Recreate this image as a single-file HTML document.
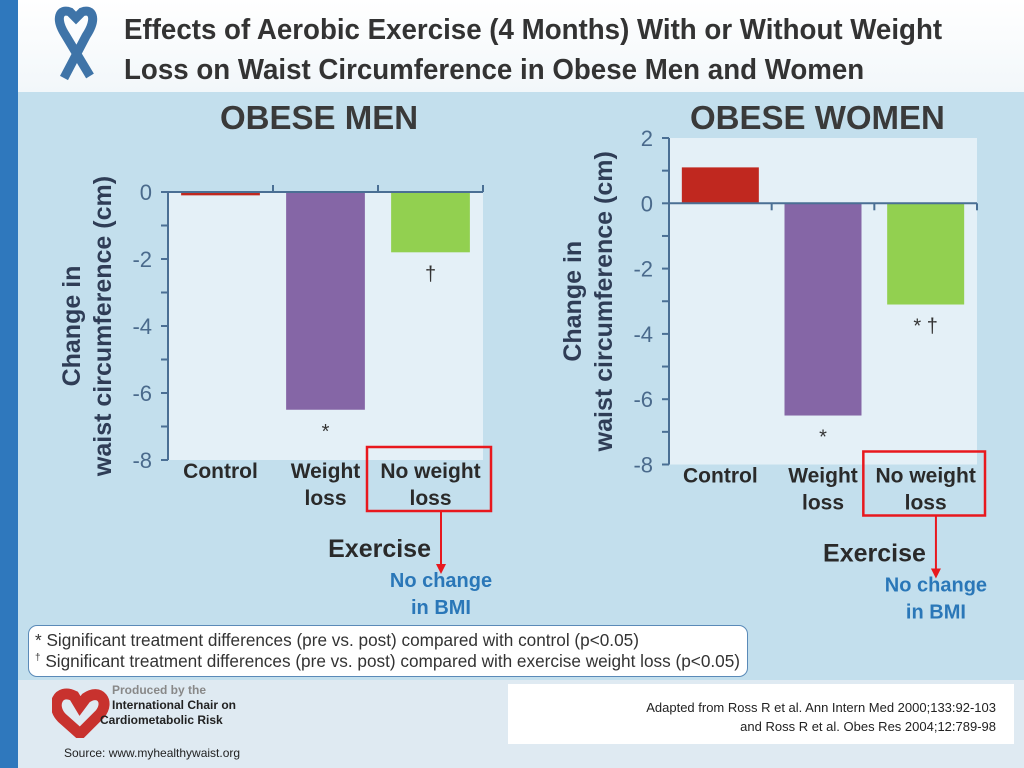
<!DOCTYPE html>
<html><head><meta charset="utf-8"><style>
body{margin:0;width:1024px;height:768px;overflow:hidden;font-family:"Liberation Sans",sans-serif;position:relative;background:#c3dfed}
.abs{position:absolute}
</style></head><body>
<div class="abs" style="left:0;top:0;width:18px;height:768px;background:#2f78bd"></div>
<div class="abs" style="left:18px;top:0;width:1006px;height:92px;background:linear-gradient(#fff,#f2f7fa)"></div>
<div class="abs" style="left:18px;top:680px;width:1006px;height:88px;background:#dfeaf2"></div>
<svg class="abs" style="left:52px;top:6px" width="50" height="78" viewBox="0 0 50 78"><path d="M12 72 L34 30 C46 12 40 2 30 6 L24 12 L18 6 C8 2 2 12 14 30 L38 70" fill="none" stroke="#3f74a8" stroke-width="9"/></svg>
<div class="abs" style="left:124px;top:10px;font-size:29px;font-weight:bold;color:#333;line-height:40px;transform:scaleX(0.955);transform-origin:left;white-space:nowrap">Effects of Aerobic Exercise (4 Months) With or Without Weight<br>Loss on Waist Circumference in Obese Men and Women</div>
<div class="abs" style="left:220px;top:99px;font-size:33px;font-weight:bold;color:#3a3a3a">OBESE MEN</div>
<div class="abs" style="left:690px;top:99px;font-size:33px;font-weight:bold;color:#3a3a3a">OBESE WOMEN</div>
<svg class="abs" id="chart" style="left:0;top:0" width="1024" height="768"></svg>
<div class="abs" style="left:28px;top:625px;width:720px;height:52px;border:1px solid #5a8ab8;border-radius:9px;background:#fff;font-size:17.2px;color:#333;line-height:21px;padding:4px 0 0 6px;box-sizing:border-box;white-space:nowrap">* Significant treatment differences (pre vs. post) compared with control (p&lt;0.05)<br><sup style="font-size:10px;line-height:0">†</sup> Significant treatment differences (pre vs. post) compared with exercise weight loss (p&lt;0.05)</div>
<svg class="abs" style="left:52px;top:688px" width="58" height="50" viewBox="0 0 58 50"><path d="M22 8 C6 0 -2 18 10 30 L28 46 L48 26 C58 14 48 0 34 10 L28 18 Z" fill="none" stroke="#c8322e" stroke-width="11"/></svg>
<div class="abs" style="left:100px;top:683px;font-size:12px;font-weight:bold;color:#222;line-height:15px"><span style="color:#888;margin-left:12px">Produced by the</span><br><span style="margin-left:12px">International Chair on</span><br>Cardiometabolic Risk</div>
<div class="abs" style="left:64px;top:746px;font-size:12px;color:#222">Source: www.myhealthywaist.org</div>
<div class="abs" style="left:508px;top:684px;width:506px;height:60px;background:#fff;font-size:13px;color:#222;text-align:right;line-height:19px;padding:14px 18px 0 0;box-sizing:border-box">Adapted from Ross R et al. Ann Intern Med 2000;133:92-103<br>and Ross R et al. Obes Res 2004;12:789-98</div>
<script>
const categories=["Control","Weight loss","No weight loss"];
const menValues=[-0.1,-6.5,-1.8];
const womenValues=[1.1,-6.5,-3.1];
const menNotes=["","*","†"];
const womenNotes=["","*","* †"];
const colors=["#c0281f","#8566a6","#92d050"];
const menTicks=[0,-2,-4,-6,-8];
const womenTicks=[2,0,-2,-4,-6,-8];
const NS="http://www.w3.org/2000/svg";
const svg=document.getElementById('chart');
function mk(t,a,txt){const e=document.createElementNS(NS,t);for(const k in a)e.setAttribute(k,a[k]);if(txt!==undefined)e.textContent=txt;svg.appendChild(e);return e;}
function draw(cfg){
 const y=v=>cfg.y0+(cfg.max-v)*(cfg.y1-cfg.y0)/(cfg.max-cfg.min);
 const bg=mk('rect',{x:cfg.x0,y:y(cfg.max),width:cfg.x1-cfg.x0,height:y(cfg.min)-y(cfg.max),fill:'#e4f0f7'});
 
 
 const bw=(cfg.x1-cfg.x0)/cfg.values.length;
 cfg.values.forEach((v,i)=>{
  const x=cfg.x0+i*bw+bw*0.125;
  const r=mk('rect',{x:x,y:Math.min(y(v),y(0)),width:bw*0.75,height:Math.abs(y(v)-y(0)),fill:colors[i]});
  
  
  if(cfg.notes[i]){const t=mk('text',{x:x+bw*0.375,y:y(v)+28,'font-size':20,fill:'#333','text-anchor':'middle','font-family':'Liberation Sans'},cfg.notes[i]);
  
  }
 });
 mk('line',{x1:cfg.x0,y1:y(cfg.max),x2:cfg.x0,y2:y(cfg.min),stroke:'#4a6f94','stroke-width':2});
 mk('line',{x1:cfg.x0,y1:y(0),x2:cfg.x1,y2:y(0),stroke:'#4a6f94','stroke-width':2});
 for(let i=1;i<=cfg.values.length;i++){const xx=cfg.x0+i*bw;mk('line',{x1:xx,y1:y(0),x2:xx,y2:y(0)+cfg.tdir*7,stroke:'#4a6f94','stroke-width':2});}
 for(let v=cfg.min;v<=cfg.max;v++){mk('line',{x1:cfg.x0-7,y1:y(v),x2:cfg.x0,y2:y(v),stroke:'#4a6f94','stroke-width':2});}
 cfg.ticks.forEach(v=>{const t=mk('text',{x:cfg.x0-16,y:y(v)+8,'font-size':22,fill:'#4a6a8c','text-anchor':'end','font-family':'Liberation Sans'},v);
  
  });
 const lblY=y(cfg.min)+18;
 categories.forEach((c,i)=>{const cx=cfg.x0+i*bw+bw/2;const parts=i==0?[c]:(i==1?["Weight","loss"]:["No weight","loss"]);
  parts.forEach((p,j)=>{const t=mk('text',{x:cx,y:lblY+j*27,'font-size':21,'font-weight':'bold',fill:'#2a2a2a','text-anchor':'middle','font-family':'Liberation Sans'},p);
  
  });});
 const bx=cfg.x0+2*bw;
 const box=mk('rect',{x:bx-11,y:lblY-31,width:bw+19,height:64,fill:'none',stroke:'#e8181e','stroke-width':2.5});
 
 
 const ax=bx+bw*0.6;
 mk('line',{x1:ax,y1:lblY+33,x2:ax,y2:lblY+88,stroke:'#e8181e','stroke-width':2});
 mk('path',{d:`M${ax-5} ${lblY+86} L${ax+5} ${lblY+86} L${ax} ${lblY+96}Z`,fill:'#e8181e'});
 const ex=mk('text',{x:ax-10,y:lblY+79,'font-size':25,'font-weight':'bold',fill:'#2a2a2a','text-anchor':'end','font-family':'Liberation Sans'},'Exercise');
 
 
 ['No change','in BMI'].forEach((p,j)=>{const t=mk('text',{x:ax,y:lblY+109+j*27,'font-size':20,'font-weight':'bold',fill:'#2a77b8','text-anchor':'middle','font-family':'Liberation Sans'},p);
  
  });
 const yt=mk('text',{transform:`translate(${cfg.x0-88},${(y(cfg.max)+y(cfg.min))/2}) rotate(-90)`,'font-size':25,'font-weight':'bold',fill:'#2f3d56','text-anchor':'middle','font-family':'Liberation Sans'});
 
 
 ['Change in','waist circumference (cm)'].forEach((p,j)=>{const s=document.createElementNS(NS,'tspan');s.setAttribute('x',0);s.setAttribute('y',j*31);s.textContent=p;yt.appendChild(s);});
}
draw({id:'men',values:menValues,notes:menNotes,ticks:menTicks,x0:168,x1:483,y0:192,y1:460,max:0,min:-8,tdir:-1});
draw({id:'women',values:womenValues,notes:womenNotes,ticks:womenTicks,x0:669,x1:977,y0:138,y1:464.5,max:2,min:-8,tdir:1});
</script>
</body></html>
